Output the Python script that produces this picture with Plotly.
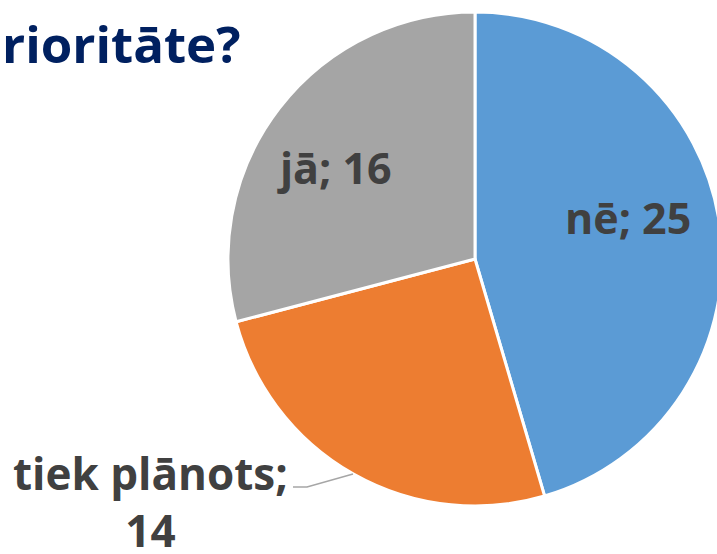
import plotly.graph_objects as go

labels = ["nē", "tiek plānots", "jā"]
values = [25, 14, 16]
colors = ["#5B9BD5", "#ED7D31", "#A5A5A5"]
title_visible = "rioritāte?"

W, H = 740, 554
cx, cy, r = 475, 259, 247


def px(x):
    return x / W


def py(y):
    return 1 - y / H


fig = go.Figure(go.Pie(
    labels=labels, values=values, sort=False, direction="clockwise", rotation=0,
    marker=dict(colors=colors, line=dict(color="white", width=3)),
    textinfo="none", hoverinfo="label+value", showlegend=False,
    domain=dict(x=[px(cx - r), px(cx + r)], y=[py(cy + r), py(cy - r)]),
))

font_lbl = dict(family="Open Sans", size=43, color="#404040")
common = dict(xref="paper", yref="paper", showarrow=False, xanchor="center", yanchor="middle")
fig.add_annotation(text=f"<b>{labels[0]}; {values[0]}</b>", x=px(628), y=py(217), font=font_lbl, **common)
fig.add_annotation(text=f"<b>{labels[2]}; {values[2]}</b>", x=px(334), y=py(167), font=font_lbl, **common)
fig.add_annotation(text=f"<b>{labels[1]};</b><br><b>{values[1]}</b>", x=px(150), y=py(501),
                   font=dict(family="Open Sans", size=44, color="#404040"), **common)
fig.add_shape(type="path", xref="paper", yref="paper",
              path=f"M {px(293)},{py(487)} L {px(307)},{py(487)} L {px(353)},{py(474)}",
              line=dict(color="#A6A6A6", width=1.5))
fig.add_annotation(text=f"<b>{title_visible}</b>", x=px(0), y=py(43), xref="paper", yref="paper",
                   showarrow=False, xanchor="left", yanchor="middle",
                   font=dict(family="Open Sans", size=51, color="#002060"))

fig.update_layout(width=W, height=H, margin=dict(l=0, r=0, t=0, b=0),
                  paper_bgcolor="white", plot_bgcolor="white")
fig.write_html("out.html", config={"displayModeBar": False},
               post_script="document.body.style.margin='0';document.body.style.overflow='hidden';")
